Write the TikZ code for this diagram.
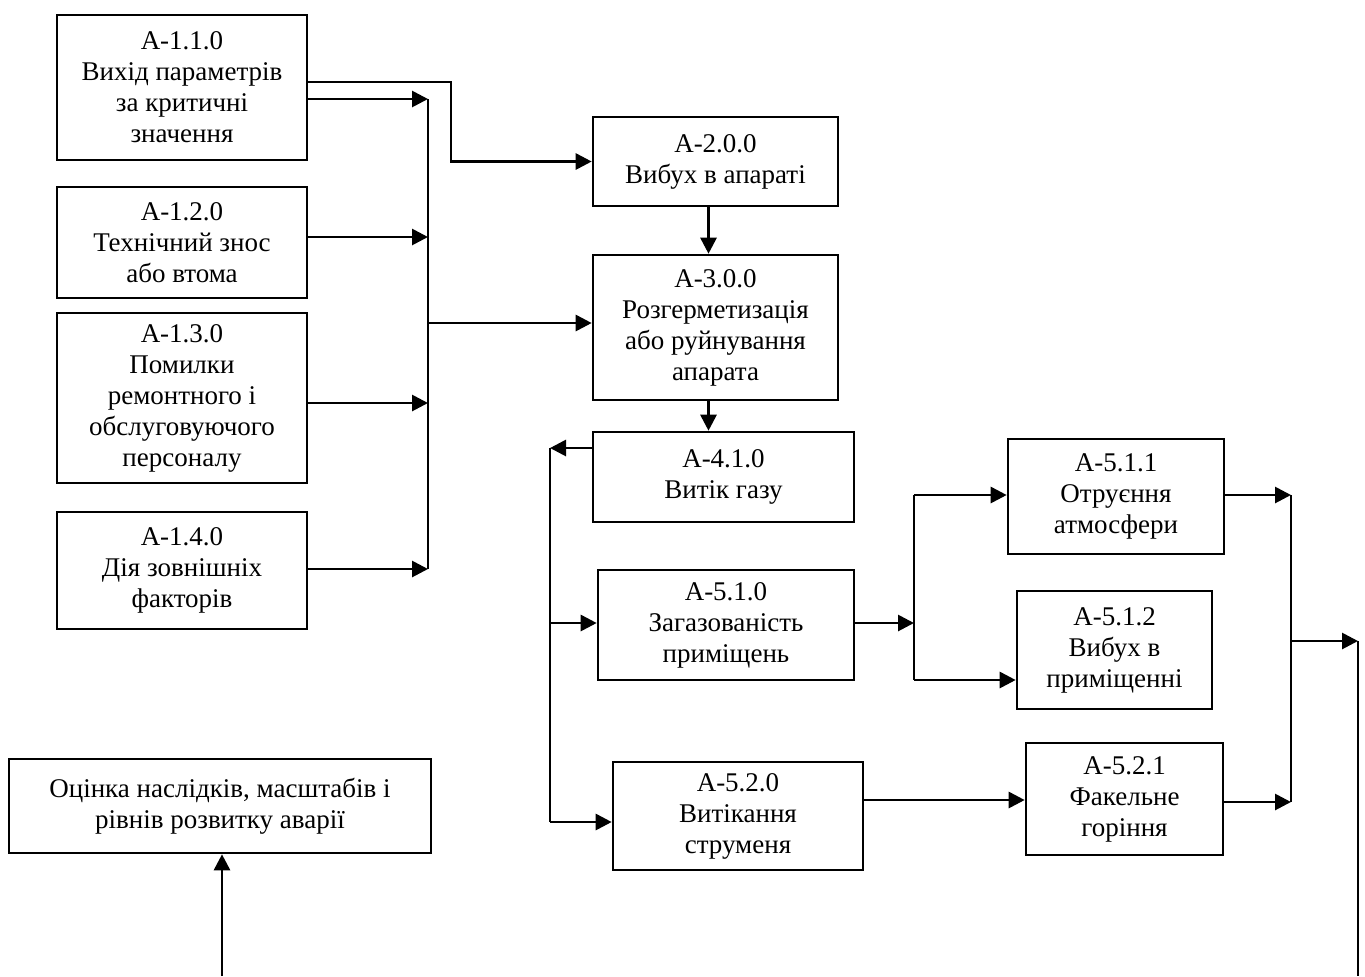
\documentclass[tikz,border=0pt]{standalone}
\usepackage{fontspec}
\setmainfont{Liberation Serif}
\usetikzlibrary{arrows.meta,calc}

\begin{document}
\begin{tikzpicture}[x=0.5pt,y=-0.5pt,
  box/.style={draw, line width=1.3pt, inner sep=0pt, align=center,
    font=\fontsize{13.5}{15.5}\selectfont},
  arr/.style={line width=1.4pt, -{Triangle[length=8pt,width=8pt]}},
  ln/.style={line width=1.4pt}]
\useasboundingbox (0,0) rectangle (1365,976);

% causes
\node[box, minimum width=125pt, minimum height=72.5pt] (a11) at (182,87.5) {A-1.1.0\\Вихід параметрів\\за критичні\\значення};
\node[box, minimum width=125pt, minimum height=55.5pt] (a12) at (182,242.5) {A-1.2.0\\Технічний знос\\або втома};
\node[box, minimum width=125pt, minimum height=85pt] (a13) at (182,398) {A-1.3.0\\Помилки\\ремонтного і\\обслуговуючого\\персоналу};
\node[box, minimum width=125pt, minimum height=58.5pt] (a14) at (182,570.5) {A-1.4.0\\Дія зовнішніх\\факторів};

% main chain
\node[box, minimum width=122.5pt, minimum height=44.5pt] (a2) at (715.5,161.5) {A-2.0.0\\Вибух в апараті};
\node[box, minimum width=122.5pt, minimum height=72.5pt] (a3) at (715.5,327.5) {A-3.0.0\\Розгерметизація\\або руйнування\\апарата};
\node[box, minimum width=130.5pt, minimum height=45pt] (a41) at (723.5,477) {A-4.1.0\\Витік газу};
\node[box, minimum width=128pt, minimum height=55pt] (a51) at (726,625) {A-5.1.0\\Загазованість\\приміщень};
\node[box, minimum width=125pt, minimum height=54pt] (a52) at (738,816) {A-5.2.0\\Витікання\\струменя};

% consequences
\node[box, minimum width=108pt, minimum height=57.5pt] (a511) at (1116,496.5) {A-5.1.1\\Отруєння\\атмосфери};
\node[box, minimum width=97.5pt, minimum height=59pt] (a512) at (1114.5,650) {A-5.1.2\\Вибух в\\приміщенні};
\node[box, minimum width=98.5pt, minimum height=56pt] (a521) at (1124.5,799) {A-5.2.1\\Факельне\\горіння};
\node[box, minimum width=211pt, minimum height=47pt] (ocinka) at (220,806) {Оцінка наслідків, масштабів і\\рівнів розвитку аварії};

% left bus
\coordinate (b1a) at (428,99);
\coordinate (b1b) at (428,237);
\coordinate (b1c) at (428,403);
\coordinate (b1d) at (428,569);
\coordinate (b1e) at (428,323);
\draw[arr] (a11.east |- b1a) -- (b1a);
\draw[arr] (a12.east |- b1b) -- (b1b);
\draw[arr] (a13.east |- b1c) -- (b1c);
\draw[arr] (a14.east |- b1d) -- (b1d);
\draw[ln] (b1a) -- (b1d);
\draw[arr] (b1e) -- (a3.west |- b1e);
\draw[arr] (a11.east |- 0,82) -| (a2.west -| 451,0) -- (a2.west);

% down the chain
\coordinate (s2) at ($(a2.south)+(-7,0)$);
\coordinate (s3) at ($(a3.south)+(-7,0)$);
\draw[arr] (s2) -- (s2 |- a3.north);
\draw[arr] (s3) -- (s3 |- a41.north);

% gas leak bus
\coordinate (b2a) at (550,448);
\coordinate (b2b) at (550,623);
\coordinate (b2c) at (550,822);
\draw[arr] (a41.west |- b2a) -- (b2a);
\draw[ln] (b2a) -- (b2c);
\draw[arr] (b2b) -- (a51.west |- b2b);
\draw[arr] (b2c) -- (a52.west |- b2c);

% gas room bus
\coordinate (b3a) at (914,495);
\coordinate (b3b) at (914,623);
\coordinate (b3c) at (914,680);
\draw[arr] (a51.east |- b3b) -- (b3b);
\draw[ln] (b3a) -- (b3c);
\draw[arr] (b3a) -- (a511.west |- b3a);
\draw[arr] (b3c) -- (a512.west |- b3c);
\draw[arr] (a52.east |- 0,800) -- (a521.west |- 0,800);

% right bus
\coordinate (b4a) at (1291,495);
\coordinate (b4b) at (1291,641);
\coordinate (b4c) at (1291,802);
\draw[arr] (a511.east |- b4a) -- (b4a);
\draw[arr] (a521.east |- b4c) -- (b4c);
\draw[ln] (b4a) -- (b4c);
\coordinate (out) at (1358,641);
\draw[arr] (b4b) -- (out);
\draw[ln] (out) -- (1358,976);
\coordinate (in) at (222,976);
\draw[arr] (in) -- (in |- ocinka.south);

\end{tikzpicture}
\end{document}
